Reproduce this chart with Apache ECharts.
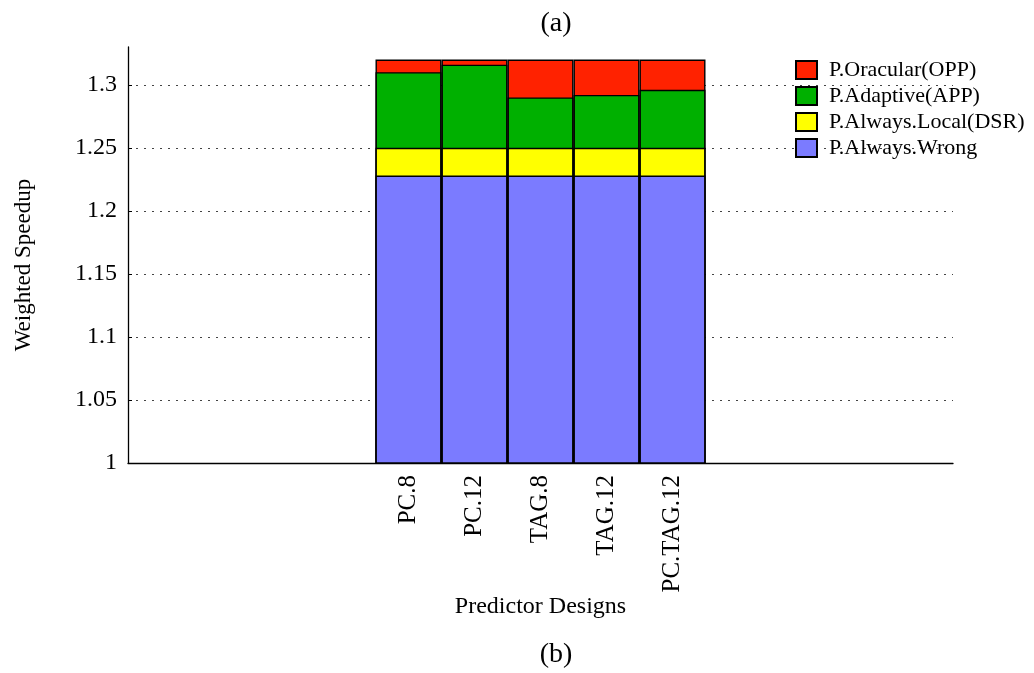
<!DOCTYPE html>
<html><head><meta charset="utf-8">
<script src="https://cdn.jsdelivr.net/npm/echarts@6/dist/echarts.min.js"></script>
<style>html,body{margin:0;padding:0;background:#fff}#c{width:1034px;height:673px}</style>
</head><body><div id="c"></div>
<script>
const categories = ['PC.8', 'PC.12', 'TAG.8', 'TAG.12', 'PC.TAG.12'];
const oracularTop = [1.320, 1.320, 1.320, 1.320, 1.320];
const adaptiveTop = [1.310, 1.316, 1.290, 1.292, 1.296];
const localTop = [1.250, 1.250, 1.250, 1.250, 1.250];
const wrongTop = [1.228, 1.228, 1.228, 1.228, 1.228];
const yTicks = [1, 1.05, 1.1, 1.15, 1.2, 1.25, 1.3];
const seriesNames = ['P.Oracular(OPP)', 'P.Adaptive(APP)', 'P.Always.Local(DSR)', 'P.Always.Wrong'];
const colors = ['#ff2200', '#00b000', '#ffff00', '#7b7bff'];

const FONT = 'Liberation Serif';
const chart = echarts.init(document.getElementById('c'), null, {renderer: 'canvas'});
const toData = arr => arr.map((v, i) => [i, v]);
const allData = [oracularTop, adaptiveTop, localTop, wrongTop];
const series = allData.map((arr, k) => ({
  name: seriesNames[k],
  type: 'bar',
  data: toData(arr),
  barWidth: 66,
  barGap: '-100%',
  itemStyle: {color: colors[k], borderColor: '#000', borderWidth: 1.4},
  emphasis: {disabled: true},
  animation: false,
  z: 3 + k
}));

chart.setOption({
  animation: false,
  title: [
    {text: '(a)', left: 551, top: 5, textAlign: 'center', textStyle: {fontFamily: FONT, fontSize: 28, fontWeight: 'normal', color: '#000'}},
    {text: '(b)', left: 551, top: 636, textAlign: 'center', textStyle: {fontFamily: FONT, fontSize: 28, fontWeight: 'normal', color: '#000'}}
  ],
  legend: {
    orient: 'vertical', left: 790, top: 54,
    itemWidth: 21, itemHeight: 18, itemGap: 4,
    icon: 'rect',
    textStyle: {fontFamily: FONT, fontSize: 22, lineHeight: 22, color: '#000', padding: [0, 0, 0, 7]},
    data: seriesNames
  },
  grid: {left: 128, right: 81, top: 47, bottom: 210, containLabel: false},
  xAxis: {
    type: 'value', min: -4.25, max: 8.25,
    name: 'Predictor Designs', nameLocation: 'middle', nameGap: 132, nameMoveOverlap: false,
    nameTextStyle: {fontFamily: FONT, fontSize: 24, color: '#000'},
    axisLine: {show: true, onZero: false, lineStyle: {color: '#000', width: 1.3}},
    axisTick: {show: false},
    splitLine: {show: false},
    axisLabel: {
      customValues: [0, 1, 2, 3, 4],
      rotate: 90, margin: 12,
      fontFamily: FONT, fontSize: 25, color: '#000',
      formatter: v => categories[Math.round(v)] || ''
    }
  },
  yAxis: {
    type: 'value', min: 1, max: 1.33,
    name: 'Weighted Speedup', nameLocation: 'middle', nameGap: 93, nameRotate: 90,
    nameTextStyle: {fontFamily: FONT, fontSize: 23, color: '#000', padding: [0, 20, 0, 0]},
    axisLine: {show: true, onZero: false, lineStyle: {color: '#000', width: 1.3}},
    axisTick: {show: true, inside: true, length: 4, customValues: yTicks, lineStyle: {color: '#000'}},
    axisLabel: {customValues: yTicks, fontFamily: FONT, fontSize: 24, color: '#000', margin: 11,
      formatter: v => String(Math.round(v * 100) / 100)},
    splitLine: {show: true, lineStyle: {color: '#444', width: 1, type: [2, 6]}}
  },
  series: series
});
</script></body></html>
